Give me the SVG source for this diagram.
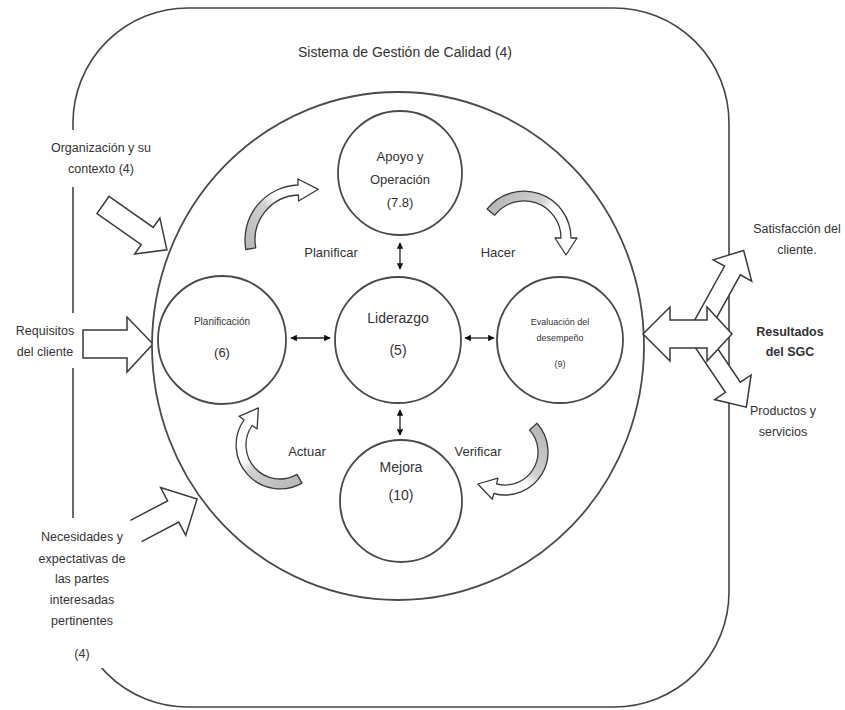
<svg xmlns="http://www.w3.org/2000/svg" width="845" height="710" viewBox="0 0 845 710">
  <style>
    .line { fill: none; stroke: #454545; stroke-width: 1.6; }
    .node { fill: #ffffff; stroke: #4a4a4a; stroke-width: 1.8; }
    .block { fill: #ffffff; stroke: #3a3a3a; stroke-width: 1.5; stroke-linejoin: miter; }
    .curve { stroke: #3a3a3a; stroke-width: 1.3; stroke-linejoin: round; }
    .mask { fill: #ffffff; stroke: none; }
    text { font-family: "Liberation Sans", Arial, sans-serif; fill: #333333; text-anchor: middle; }
    .t13 { font-size: 13px; }
    .t12 { font-size: 12.5px; }
    .t14 { font-size: 14px; }
    .title { font-size: 14px; }
    .small { font-size: 10px; }
    .tiny { font-size: 9px; }
    .bold { font-weight: bold; }
    .link { fill: none; stroke: #222; stroke-width: 1.3; marker-start: url(#tip); marker-end: url(#tip); }
  </style>
  <defs>
    <marker id="tip" viewBox="0 0 10 10" refX="9" refY="5" markerWidth="5" markerHeight="5" orient="auto-start-reverse" markerUnits="strokeWidth">
      <path d="M0 0 L10 5 L0 10 Z" fill="#111"/>
    </marker>
    <linearGradient id="gA" gradientUnits="userSpaceOnUse" x1="250" y1="250" x2="318" y2="189">
      <stop offset="0" stop-color="#b8b8b8"/><stop offset="0.45" stop-color="#d0d0d0"/><stop offset="0.6" stop-color="#ffffff"/>
    </linearGradient>
    <linearGradient id="gB" gradientUnits="userSpaceOnUse" x1="490" y1="210" x2="566" y2="255">
      <stop offset="0" stop-color="#b8b8b8"/><stop offset="0.45" stop-color="#d0d0d0"/><stop offset="0.6" stop-color="#ffffff"/>
    </linearGradient>
    <linearGradient id="gC" gradientUnits="userSpaceOnUse" x1="302" y1="480" x2="250" y2="412">
      <stop offset="0" stop-color="#b8b8b8"/><stop offset="0.45" stop-color="#d0d0d0"/><stop offset="0.6" stop-color="#ffffff"/>
    </linearGradient>
    <linearGradient id="gD" gradientUnits="userSpaceOnUse" x1="535" y1="425" x2="480" y2="490">
      <stop offset="0" stop-color="#b8b8b8"/><stop offset="0.45" stop-color="#d0d0d0"/><stop offset="0.6" stop-color="#ffffff"/>
    </linearGradient>
  </defs>

  <!-- Quality management system boundary -->
  <g id="sgc">
    <rect class="line" x="73" y="8" width="656" height="699" rx="115" ry="115"/>
    <rect class="mask" x="20" y="130" width="150" height="57"/>
    <rect class="mask" x="10" y="313" width="72" height="55"/>
    <rect class="mask" x="15" y="518" width="112" height="150"/>
    <text class="title" x="405" y="57">Sistema de Gestión de Calidad (4)</text>
  </g>

  <!-- Inputs -->
  <g id="contexto">
    <text class="t12" x="101" y="152">Organización y su</text>
    <text class="t12" x="101" y="173">contexto (4)</text>
    <polygon class="block" transform="translate(103,205) rotate(35)" points="0,-10.5 54,-10.5 54,-22 78,0 54,22 54,10.5 0,10.5"/>
  </g>
  <g id="requisitos">
    <text class="t12" x="45" y="335">Requisitos</text>
    <text class="t12" x="45" y="356">del cliente</text>
    <polygon class="block" points="83,330 127,330 127,317 153,344 127,372 127,358 83,358"/>
  </g>
  <g id="partes">
    <text class="t12" x="82" y="541">Necesidades y</text>
    <text class="t12" x="82" y="563">expectativas de</text>
    <text class="t12" x="82" y="583">las partes</text>
    <text class="t12" x="82" y="604">interesadas</text>
    <text class="t12" x="82" y="625">pertinentes</text>
    <text class="t12" x="82" y="658">(4)</text>
    <path class="block" transform="translate(136,531) rotate(-27.7)" d="M0 -12 L42 -12 L42 -27 L69 0 L42 27 L42 12 L0 12"/>
  </g>

  <!-- Outer process circle -->
  <g id="ciclo">
    <ellipse class="node" cx="398" cy="346" rx="246" ry="254"/>
  </g>

  <!-- Outputs -->
  <g id="salidas">
    <polygon class="block" transform="translate(699.5,330) rotate(-61)" points="0,-9 68,-9 68,-22 91,0 68,22 68,9 0,9"/>
    <polygon class="block" transform="translate(701,340) rotate(56)" points="0,-9 57,-9 57,-22 81,0 57,22 57,9 0,9"/>
    <polygon class="block" points="643,334 670,307 670,320 707,320 707,307 732,334 707,361 707,348 670,348 670,361"/>
    <text class="t12" x="797" y="233">Satisfacción del</text>
    <text class="t12" x="797" y="254">cliente.</text>
    <text class="t12 bold" x="790" y="336">Resultados</text>
    <text class="t12 bold" x="790" y="356">del SGC</text>
    <text class="t12" x="783" y="415">Productos y</text>
    <text class="t12" x="783" y="436">servicios</text>
  </g>

  <!-- Process nodes -->
  <g id="apoyo">
    <circle class="node" cx="400" cy="173" r="62"/>
    <text class="t13" x="400" y="161">Apoyo y</text>
    <text class="t13" x="400" y="184">Operación</text>
    <text class="t13" x="400" y="207">(7.8)</text>
  </g>
  <g id="planificacion">
    <circle class="node" cx="222" cy="340" r="64"/>
    <text class="small" x="222" y="325">Planificación</text>
    <text class="t13" x="222" y="357">(6)</text>
  </g>
  <g id="liderazgo">
    <circle class="node" cx="398" cy="340" r="63"/>
    <text class="t14" x="398" y="323">Liderazgo</text>
    <text class="t14" x="398" y="355">(5)</text>
  </g>
  <g id="evaluacion">
    <circle class="node" cx="560" cy="340" r="63"/>
    <text class="tiny" x="560" y="325">Evaluación del</text>
    <text class="tiny" x="560" y="341">desempeño</text>
    <text class="tiny" x="560" y="367">(9)</text>
  </g>
  <g id="mejora">
    <circle class="node" cx="401" cy="501" r="61"/>
    <text class="t14" x="401" y="472">Mejora</text>
    <text class="t14" x="401" y="500">(10)</text>
  </g>

  <!-- PDCA cycle arrows and labels -->
  <g id="pdca">
    <path class="curve" fill="url(#gA)" d="M245.8 249.5 A55 55 0 0 1 298.1 185 L297.9 179 L318.3 189.3 L298.6 201 L298.4 195 A45 45 0 0 0 255.7 247.8 Z"/>
    <path class="curve" fill="url(#gB)" d="M487 209.1 A47 47 0 0 1 571 238 L577 238 L566 255 L555 238 L561 238 A37 37 0 0 0 494.8 215.2 Z"/>
    <path class="curve" fill="url(#gC)" d="M302 483.1 A44 44 0 0 1 244 419.8 L239 416.3 L258.4 407.9 L257.1 428.9 L252.1 425.5 A34 34 0 0 0 297 474.4 Z"/>
    <path class="curve" fill="url(#gD)" d="M537 423.2 A43 43 0 0 1 493.9 493.5 L492.3 499.3 L477.8 484 L498 478.1 L496.5 483.9 A33 33 0 0 0 529.5 429.9 Z"/>
    <text class="t13" x="331" y="257">Planificar</text>
    <text class="t13" x="498" y="257">Hacer</text>
    <text class="t13" x="307" y="456">Actuar</text>
    <text class="t13" x="478" y="456">Verificar</text>
  </g>

  <!-- Connectors between nodes -->
  <g id="connectors">
    <line class="link" x1="291" y1="338" x2="330" y2="338"/>
    <line class="link" x1="465" y1="338" x2="494" y2="338"/>
    <line class="link" x1="400" y1="243" x2="400" y2="269"/>
    <line class="link" x1="400" y1="410" x2="400" y2="435"/>
  </g>
</svg>
